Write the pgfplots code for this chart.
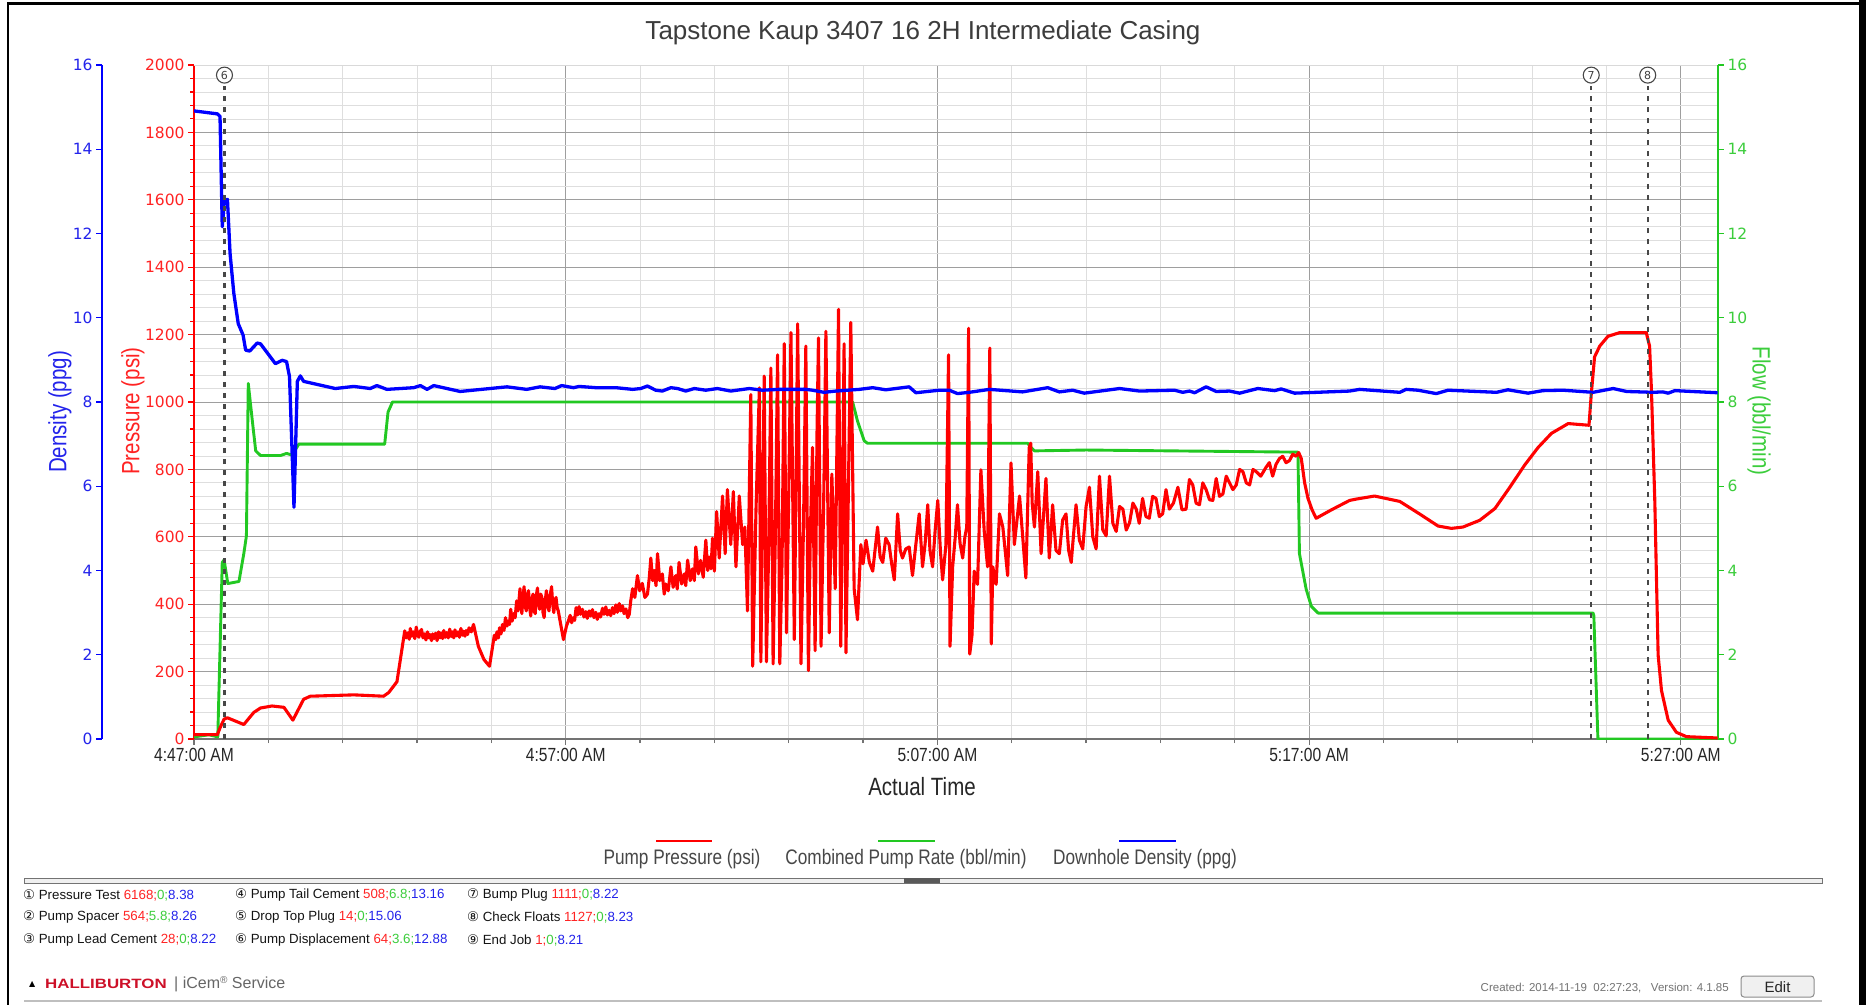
\documentclass[border=0pt]{standalone}
\usepackage{fontspec}
\setmainfont{Liberation Sans}
\newfontfamily\dv{DejaVu Sans}
\newfontfamily\cond[FakeStretch=0.82]{Liberation Sans}
\newfontfamily\wide[FakeStretch=1.25]{Liberation Sans}
\usepackage{pgfplots}
\pgfplotsset{compat=1.18}
\definecolor{pr}{RGB}{255,0,0}
\definecolor{fl}{RGB}{34,200,34}
\definecolor{de}{RGB}{0,0,255}
\definecolor{prt}{RGB}{255,35,35}
\definecolor{flt}{RGB}{60,205,60}
\definecolor{det}{RGB}{35,35,235}
\definecolor{txt}{RGB}{60,60,60}
\definecolor{halred}{RGB}{205,16,40}
\newcommand{\fs}[1]{\fontsize{#1bp}{#1bp}\selectfont}
\pgfplotsset{base/.style={at={(194bp,-739bp)}, anchor=south west, width=1524bp, height=674bp, scale only axis, xmin=0, xmax=41, /pgf/number format/assume math mode=true, /pgf/number format/1000 sep={}}}
\begin{document}
\begin{tikzpicture}
\useasboundingbox (0,0) rectangle (1866bp,-1005bp);
\fill[white] (0,0) rectangle (1866bp,-1005bp);
% main axis: grid, time axis, pressure axis
\begin{axis}[base, ymin=0, ymax=2000,
 axis x line*=bottom, axis y line*=left,
 x axis line style={draw=black!55, line width=2.2bp, -},
 y axis line style={draw=pr, line width=1.3bp, -},
 xtick={0,10,20,30,40}, xticklabels={4:47:00 AM,4:57:00 AM,5:07:00 AM,5:17:00 AM,5:27:00 AM},
 minor x tick num=4,
 ytick={0,200,...,2000}, minor y tick num=4,
 tick align=outside, major tick length=6bp, minor tick length=4bp,
 x tick style={draw=black!55, line width=1.2bp},
 y tick style={draw=pr, line width=1.1bp},
 grid=both,
 major grid style={draw=black!38, line width=0.9bp},
 minor grid style={draw=black!13, line width=0.8bp},
 xticklabel style={font=\cond\fs{19}, text=black!85},
 yticklabel style={font=\dv\fs{15.5}, text=prt},
]
\addplot[draw=none] coordinates {(0,0)};
\draw[black!15, line width=1.3bp] (rel axis cs:0,1) -- (rel axis cs:1,1);
\end{axis}
% flow axis
\begin{axis}[base, ymin=0, ymax=16, axis y line*=right, axis x line=none, xtick=\empty,
 ytick={0,2,...,16}, minor y tick num=0, tick align=outside, major tick length=6bp,
 y axis line style={draw=fl, line width=1.3bp, -}, y tick style={draw=fl, line width=1.1bp},
 yticklabel style={font=\dv\fs{15.5}, text=flt}]
\addplot[fl, line width=2.9bp, line join=round] coordinates {
(0,0.05) (0.40,0.10) (0.64,0.05) (0.76,4.19) (0.81,4.25) (0.91,3.69) (1.21,3.74) (1.34,4.40) (1.41,4.82) (1.46,8.44) (1.57,7.55) (1.66,6.84) (1.79,6.73) (2.33,6.73) (2.49,6.78) (2.64,6.74) (2.82,7.00) (5.13,7.00) (5.22,7.76) (5.34,8.00)
(17.72,8.00) (17.85,7.55) (18.03,7.08) (18.12,7.02)
(22.43,7.02) (22.52,6.92) (22.61,6.84) (24.0,6.86) (29.70,6.81) (29.74,4.40) (29.92,3.56) (30.06,3.15) (30.24,2.99)
(37.64,2.99) (37.66,2.93) (37.77,0) (40.99,0)};
\end{axis}
% pressure data
\begin{axis}[base, ymin=0, ymax=2000, hide axis]
\addplot[pr, line width=3.1bp, line join=round] coordinates {
(0,13) (0.63,13) (0.70,33) (0.81,59) (0.90,63) (1.34,43) (1.61,79) (1.79,92) (2.10,98) (2.42,94) (2.66,56) (2.95,118) (3.13,127) (4.30,131) (5.10,127) (5.24,138) (5.46,170) (5.67,321) (5.71,300) (5.75,315) (5.79,296) (5.82,328) (5.86,305) (5.90,318) (5.94,298) (5.98,332) (6.02,308) (6.05,302) (6.09,320) (6.12,325) (6.16,300) (6.20,312) (6.24,294) (6.28,318) (6.32,300) (6.35,310) (6.39,292) (6.42,312) (6.46,298) (6.50,314) (6.54,292) (6.58,318) (6.62,300) (6.65,315) (6.69,298) (6.72,322) (6.76,302) (6.80,316) (6.84,300) (6.88,326) (6.92,304) (6.95,318) (6.99,300) (7.02,324) (7.06,306) (7.10,318) (7.14,302) (7.18,328) (7.22,308) (7.25,320) (7.29,305) (7.32,322) (7.36,310) (7.40,330) (7.46,318) (7.52,340) (7.65,275) (7.80,236) (7.95,216) (8.08,308) (8.12,295) (8.15,318) (8.19,300) (8.22,330) (8.26,312) (8.30,340) (8.34,322) (8.38,360) (8.42,335) (8.45,350) (8.49,340) (8.52,385) (8.56,350) (8.60,372) (8.64,360) (8.68,410) (8.72,380) (8.77,446) (8.82,372) (8.85,420) (8.88,452) (8.91,395) (8.94,380) (8.97,430) (9.00,440) (9.03,390) (9.06,365) (9.09,415) (9.12,430) (9.15,380) (9.18,372) (9.21,425) (9.24,448) (9.27,400) (9.30,385) (9.33,430) (9.36,420) (9.39,375) (9.42,360) (9.45,410) (9.48,440) (9.52,395) (9.55,380) (9.58,425) (9.62,452) (9.65,400) (9.68,375) (9.71,410) (9.74,420) (9.77,390) (9.80,380) (9.94,295) (10.02,335) (10.07,350) (10.12,367) (10.16,345) (10.20,360) (10.24,352) (10.28,390) (10.32,368)
(10.36,393) (10.40,370) (10.45,385) (10.49,362) (10.54,378) (10.58,358) (10.63,380) (10.67,365) (10.72,384) (10.76,360) (10.81,376) (10.85,355) (10.90,372) (10.94,362) (10.99,388) (11.03,370) (11.08,392) (11.12,368) (11.17,382) (11.21,366) (11.26,390) (11.30,372) (11.35,398) (11.39,376) (11.44,402) (11.48,380) (11.53,395) (11.57,372) (11.62,386) (11.67,360) (11.71,370) (11.75,410) (11.80,446)
(11.86,420) (11.93,485) (11.99,440) (12.06,462) (12.13,420) (12.20,430) (12.25,480) (12.29,537) (12.34,470) (12.38,500) (12.43,455) (12.47,550) (12.53,470) (12.60,490) (12.65,430) (12.69,460) (12.76,440) (12.83,511) (12.89,450) (12.96,485) (13.00,445) (13.05,524) (13.12,460) (13.19,490) (13.23,455) (13.28,531) (13.35,470) (13.41,505) (13.46,470) (13.50,570) (13.57,490) (13.63,530) (13.70,480) (13.77,590) (13.82,500) (13.86,540) (13.91,505) (13.95,596) (14.00,498) (14.06,675) (14.13,537) (14.22,721) (14.29,550) (14.35,740) (14.44,577) (14.51,734) (14.58,511) (14.67,721) (14.76,577) (14.82,629) (14.89,380) (14.98,1022) (15.03,216) (15.12,682) (15.21,1042) (15.25,229) (15.30,700) (15.34,1077) (15.40,229) (15.46,560) (15.52,1101) (15.58,223) (15.64,600) (15.70,1140) (15.76,223) (15.82,520) (15.88,1173) (15.94,315) (16.00,720) (16.06,1206) (16.15,295) (16.20,800) (16.24,1232) (16.33,223) (16.40,650) (16.46,1166) (16.53,203) (16.58,600) (16.64,865) (16.71,262) (16.76,900) (16.80,1190) (16.87,275) (16.94,700) (17.00,1210) (17.09,315) (17.16,786) (17.25,446) (17.30,900) (17.34,1275) (17.40,275) (17.45,750) (17.49,1173) (17.54,256) (17.60,700) (17.67,1236) (17.76,446) (17.85,354) (17.94,577)
(18.00,520) (18.08,590) (18.17,524) (18.26,498) (18.39,629) (18.46,540) (18.53,524) (18.61,596) (18.70,577) (18.77,520) (18.84,472) (18.93,668) (19.00,560) (19.06,537) (19.15,564) (19.24,570) (19.33,485) (19.42,577) (19.51,668) (19.60,511) (19.67,580) (19.74,695) (19.80,560) (19.87,511) (19.94,620) (20.01,708) (20.08,560) (20.14,472) (20.23,577) (20.30,1140) (20.34,275) (20.41,511) (20.48,600) (20.54,695) (20.61,580) (20.68,537) (20.74,600) (20.79,629) (20.84,1219) (20.87,252) (20.93,308) (20.99,498) (21.08,459) (21.17,799) (21.26,616) (21.35,511) (21.41,1160) (21.45,282) (21.49,511) (21.58,459) (21.67,668) (21.76,629) (21.89,485) (21.98,819) (22.07,577) (22.21,721) (22.38,478) (22.47,865) (22.51,878) (22.55,700) (22.61,629) (22.70,793) (22.79,550) (22.92,773) (23.01,537) (23.10,695) (23.19,560) (23.28,550) (23.37,650) (23.46,668) (23.53,560) (23.60,524) (23.73,695) (23.82,590) (23.91,564) (24.00,690) (24.09,747) (24.18,600) (24.27,564) (24.36,780) (24.45,620) (24.54,603) (24.63,780) (24.72,640) (24.81,616) (24.90,690) (24.99,682) (25.08,620) (25.17,642) (25.26,700) (25.35,682) (25.43,640) (25.52,714) (25.61,660) (25.70,655) (25.79,720) (25.88,714) (25.97,660) (26.06,668) (26.15,740) (26.24,682) (26.35,700) (26.47,747) (26.58,680) (26.69,682) (26.78,770) (26.87,754) (26.96,700) (27.05,695) (27.14,760) (27.23,740) (27.32,710) (27.41,708) (27.50,773) (27.59,720) (27.68,727) (27.77,780) (27.86,760) (27.95,740) (28.04,754) (28.13,800) (28.22,793) (28.31,760) (28.40,754) (28.49,800) (28.58,793) (28.70,780) (28.84,806) (28.93,820) (29.02,780) (29.11,815) (29.20,832) (29.29,839) (29.38,820) (29.47,826) (29.56,845) (29.65,839) (29.72,850) (29.79,832) (29.88,760) (29.97,714) (30.08,680) (30.19,655) (30.60,680) (31.09,708) (31.27,712) (31.76,721) (32.44,705) (32.97,668) (33.47,632) (33.83,625) (34.14,629) (34.59,649) (35.00,684) (35.40,747) (35.80,813) (36.16,865) (36.52,907) (36.97,936) (37.53,931) (37.59,1022) (37.68,1134) (37.82,1166) (38.04,1195) (38.36,1206) (39.07,1206) (39.16,1166) (39.21,1035) (39.30,708) (39.39,249) (39.48,144) (39.66,56) (39.88,20) (40.15,7) (40.99,3)};
\end{axis}
% density data and event markers
\begin{axis}[base, ymin=0, ymax=16, hide axis]
\addplot[de, line width=3.3bp, line join=round] coordinates {
(0,14.91) (0.63,14.84) (0.70,14.78) (0.76,12.16) (0.82,12.79) (0.90,12.81) (0.97,11.53) (1.07,10.59) (1.19,9.86) (1.32,9.59) (1.39,9.23) (1.50,9.21) (1.70,9.40) (1.79,9.38) (2.19,8.91) (2.37,8.99) (2.49,8.96) (2.57,8.60) (2.69,5.50) (2.78,8.49) (2.86,8.62) (2.95,8.49) (3.80,8.32) (4.30,8.37) (4.74,8.32) (4.92,8.39) (5.19,8.30) (5.91,8.34) (6.09,8.39) (6.27,8.30) (6.45,8.39) (7.16,8.25) (8.42,8.36) (8.95,8.30) (9.31,8.36) (9.71,8.32) (9.89,8.39) (10.21,8.34)
(10.36,8.37) (10.81,8.34) (11.35,8.34) (11.80,8.30) (12.02,8.32) (12.20,8.38) (12.42,8.28) (12.60,8.26) (12.83,8.34) (13.01,8.32) (13.23,8.26) (13.46,8.32) (13.77,8.28) (14.08,8.32) (14.44,8.26) (14.94,8.32) (15.29,8.28) (15.74,8.30) (16.46,8.30) (16.64,8.28) (16.95,8.23) (17.27,8.26) (17.90,8.30) (18.26,8.34) (18.61,8.29) (19.24,8.36) (19.42,8.22) (20.05,8.28) (20.32,8.28) (20.54,8.20) (20.86,8.23)
(21.40,8.30) (22.29,8.24) (22.97,8.34) (23.28,8.24) (23.64,8.28) (23.95,8.21) (24.90,8.32) (25.44,8.26) (26.38,8.28) (26.60,8.23) (26.78,8.26) (26.92,8.22) (27.23,8.36) (27.50,8.25) (27.86,8.26) (28.13,8.21) (28.62,8.32) (29.07,8.27) (29.25,8.31) (29.61,8.21) (31.09,8.26)
(31.36,8.30) (32.44,8.23) (32.61,8.30) (32.93,8.28) (33.42,8.20) (33.74,8.28) (35.04,8.23) (35.35,8.29) (35.89,8.21) (36.29,8.27) (36.83,8.28) (37.64,8.23) (38.18,8.32) (38.54,8.25) (39.25,8.23) (39.52,8.24) (39.66,8.21) (39.84,8.27) (40.99,8.22)};
\foreach \t/\n in {0.82/6,37.59/7,39.11/8}{
 \edef\tmp{\noexpand\draw[black!72, line width=2.2bp, dash pattern=on 5bp off 6bp] (axis cs:\t,0) -- (axis cs:\t,15.5);
 \noexpand\node[circle, draw=black!72, line width=1.1bp, fill=white, inner sep=0pt, minimum size=16bp, font=\noexpand\dv\noexpand\fs{11}, text=black!75] at (axis cs:\t,15.76) {\n};}
 \tmp
}
\end{axis}
% density axis
\begin{axis}[at={(102bp,-739bp)}, anchor=south west, width=1bp, height=674bp, scale only axis,
 xmin=0, xmax=1, ymin=0, ymax=16, axis y line*=left, axis x line=none, xtick=\empty,
 ytick={0,2,...,16}, minor y tick num=0, tick align=outside, major tick length=6bp,
 y axis line style={draw=de, line width=1.3bp, -}, y tick style={draw=de, line width=1.1bp},
 yticklabel style={font=\dv\fs{15.5}, text=det}, /pgf/number format/assume math mode=true]
\addplot[draw=none] coordinates {(0,0)};
\end{axis}
\begin{scope}[x=1bp, y=-1bp]
% frame
\draw[black, line width=2.5bp] (8,1005) -- (8,3.5) -- (1862,3.5);
\fill[black] (1859,0) rectangle (1866,1005);
% titles and labels
\node[font=\fs{26}, text=txt] at (923,33) {Tapstone Kaup 3407 16 2H Intermediate Casing};
\node[font=\cond\fs{25}, text=black!85] at (922,787) {Actual Time};
\node[rotate=90, font=\cond\fs{25}, text=det] at (60,412) {Density (ppg)};
\node[rotate=90, font=\cond\fs{25}, text=prt] at (133,411) {Pressure (psi)};
\node[rotate=-90, font=\cond\fs{25}, text=flt] at (1759,411) {Flow (bbl/min)};
% legend
\draw[pr, line width=2.5bp] (656,841) -- (712,841);
\draw[fl, line width=2.5bp] (878,841) -- (935,841);
\draw[de, line width=2.5bp] (1119,841) -- (1176,841);
\node[font=\cond\fs{21}, text=black!72] at (682,859) {Pump Pressure (psi)};
\node[font=\cond\fs{21}, text=black!72] at (906,859) {Combined Pump Rate (bbl/min)};
\node[font=\cond\fs{21}, text=black!72] at (1145,859) {Downhole Density (ppg)};
% separator
\draw[black!55, fill=black!6, line width=1bp] (24,878) rectangle (1822,883);
\fill[black!65] (904,878) rectangle (940,883);
% events
\begin{scope}[every node/.style={anchor=west, font=\fs{13.3}, text=black!92, inner sep=0pt}]
\node at (23,895) {{\dv ①} Pressure Test \textcolor{prt}{6168;}\textcolor{flt}{0;}\textcolor{det}{8.38}};
\node at (23,917) {{\dv ②} Pump Spacer \textcolor{prt}{564;}\textcolor{flt}{5.8;}\textcolor{det}{8.26}};
\node at (23,940) {{\dv ③} Pump Lead Cement \textcolor{prt}{28;}\textcolor{flt}{0;}\textcolor{det}{8.22}};
\node at (235,895) {{\dv ④} Pump Tail Cement \textcolor{prt}{508;}\textcolor{flt}{6.8;}\textcolor{det}{13.16}};
\node at (235,917) {{\dv ⑤} Drop Top Plug \textcolor{prt}{14;}\textcolor{flt}{0;}\textcolor{det}{15.06}};
\node at (235,940) {{\dv ⑥} Pump Displacement \textcolor{prt}{64;}\textcolor{flt}{3.6;}\textcolor{det}{12.88}};
\node at (467,895) {{\dv ⑦} Bump Plug \textcolor{prt}{1111;}\textcolor{flt}{0;}\textcolor{det}{8.22}};
\node at (467,917) {{\dv ⑧} Check Floats \textcolor{prt}{1127;}\textcolor{flt}{0;}\textcolor{det}{8.23}};
\node at (467,940) {{\dv ⑨} End Job \textcolor{prt}{1;}\textcolor{flt}{0;}\textcolor{det}{8.21}};
\end{scope}
% footer
\node[anchor=west, font=\dv\fs{8}, inner sep=0pt] at (29,984) {▲};
\node[anchor=west, font=\wide\bfseries\fs{13.5}, text=halred, inner sep=0pt] at (45,984) {HALLIBURTON};
\node[anchor=west, font=\fs{16}, text=black!60, inner sep=0pt] at (174,984) {| iCem{\fs{10}\raisebox{5bp}{®}} Service};
\node[anchor=east, font=\fs{11.5}, text=black!55, inner sep=0pt] at (1729,988) {Created: 2014-11-19~~02:27:23,~~~Version: 4.1.85};
\draw[black!45, fill=black!6, rounded corners=3bp, line width=1bp] (1741,976) rectangle (1814,997);
\node[font=\fs{15}, text=black!85] at (1777.5,987) {Edit};
\draw[black!25, line width=1.2bp] (24,1001) -- (1822,1001);
\end{scope}
\end{tikzpicture}
\end{document}
